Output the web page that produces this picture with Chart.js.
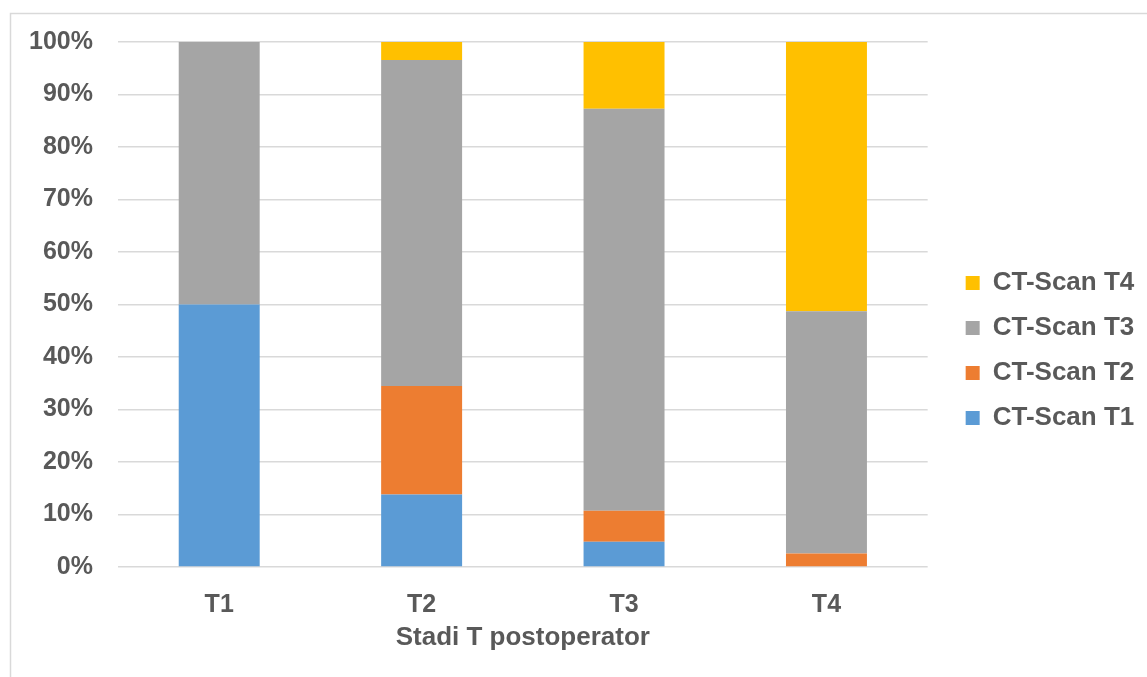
<!DOCTYPE html>
<html>
<head>
<meta charset="utf-8">
<title>Stadi T postoperator</title>
<script src="https://cdn.jsdelivr.net/npm/chart.js@4/dist/chart.umd.min.js"></script>
<style>
  html, body { margin: 0; padding: 0; background: #ffffff; }
  #wrap { width: 1147px; height: 677px; position: relative; }
</style>
</head>
<body>
<div id="wrap"><canvas id="chart"></canvas></div>
<script>
// Postoperative T stage (x) vs. CT-Scan T stage share (%)
const categories = ['T1', 'T2', 'T3', 'T4'];
const ctScanT1 = [50, 13.79, 4.8, 0];
const ctScanT2 = [0, 20.69, 5.9, 2.56];
const ctScanT3 = [50, 62.07, 76.6, 46.15];
const ctScanT4 = [0, 3.45, 12.7, 51.29];
const seriesNames = ['CT-Scan T1', 'CT-Scan T2', 'CT-Scan T3', 'CT-Scan T4'];
const seriesColors = ['#5B9BD5', '#ED7D31', '#A5A5A5', '#FFC000'];
const yTicks = [0, 10, 20, 30, 40, 50, 60, 70, 80, 90, 100];
const xTitle = 'Stadi T postoperator';

const textColor = '#595959';
const gridColor = '#d9d9d9';
const family = '"Liberation Sans", Arial, sans-serif';

// white page with a thin frame around the chart
const framePlugin = {
  id: 'frame',
  beforeDraw(chart) {
    const ctx = chart.ctx;
    ctx.save();
    ctx.fillStyle = '#ffffff';
    ctx.fillRect(0, 0, chart.width, chart.height);
    ctx.strokeStyle = '#d9d9d9';
    ctx.lineWidth = 1.5;
    ctx.strokeRect(10.5, 13.5, chart.width + 20, chart.height + 20);
    ctx.restore();
  }
};

const seriesData = [ctScanT1, ctScanT2, ctScanT3, ctScanT4];

new Chart(document.getElementById('chart'), {
  type: 'bar',
  data: {
    labels: categories,
    datasets: seriesData.map((vals, i) => ({
      label: seriesNames[i],
      data: vals,
      backgroundColor: seriesColors[i],
      borderWidth: 0,
      categoryPercentage: 1,
      barPercentage: 0.4
    }))
  },
  options: {
    responsive: true,
    maintainAspectRatio: false,
    animation: false,
    layout: { padding: { top: 24, right: 11, bottom: 0, left: 0 } },
    plugins: {
      tooltip: { enabled: false },
      legend: {
        position: 'right',
        reverse: true,
        labels: {
          boxWidth: 14,
          boxHeight: 14,
          padding: 19,
          color: textColor,
          font: { family, size: 26, weight: 'bold' }
        }
      }
    },
    scales: {
      x: {
        stacked: true,
        grid: { display: false },
        border: { display: false },
        ticks: {
          color: textColor,
          padding: 15,
          font: { family, size: 25, weight: 'bold' }
        },
        title: {
          display: true,
          text: xTitle,
          color: textColor,
          padding: { top: 0, bottom: 24 },
          font: { family, size: 26, weight: 'bold' }
        },
        afterFit(scale) { scale.height = 110; }
      },
      y: {
        stacked: true,
        min: 0,
        max: 100,
        afterBuildTicks(scale) { scale.ticks = yTicks.map(v => ({ value: v })); },
        grid: { color: gridColor, lineWidth: 1.5, drawTicks: false },
        border: { display: false },
        ticks: {
          color: textColor,
          padding: 25,
          font: { family, size: 25, weight: 'bold' },
          callback: v => v + '%'
        },
        afterFit(scale) { scale.width = 118; }
      },
      // spacer axes that only reserve room above and to the right of the plot
      topSpace: {
        axis: 'x',
        type: 'linear',
        position: 'top',
        grid: { display: false },
        border: { display: false },
        ticks: { display: false },
        afterFit(scale) { scale.height = 18; }
      },
      rightSpace: {
        axis: 'y',
        type: 'linear',
        position: 'right',
        grid: { display: false },
        border: { display: false },
        ticks: { display: false },
        afterFit(scale) { scale.width = 19; }
      }
    }
  },
  plugins: [framePlugin]
});
</script>
</body>
</html>
